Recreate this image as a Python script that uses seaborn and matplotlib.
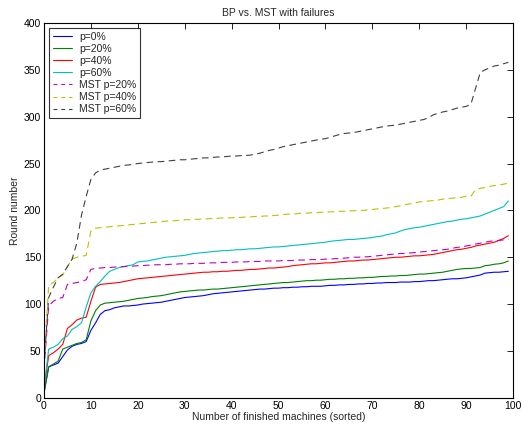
import numpy as np
import pandas as pd
import matplotlib
matplotlib.use("Agg")
import matplotlib.pyplot as plt
import seaborn as sns

machines = list(range(100))

bp_p0 = [5, 33, 35, 37, 44, 51, 55, 57, 58, 60,
         72, 80, 89, 93, 94, 96, 97, 98, 98, 98.5,
         99, 100, 100.5, 101, 101.5, 102, 103, 104, 105, 106,
         107, 107.5, 108, 108.5, 109, 110, 111, 111.5, 112, 112.5,
         113, 113.5, 114, 114.5, 115, 115.5, 116, 116, 116.5, 117,
         117, 117.5, 117.5, 118, 118, 118.5, 118.5, 119, 119, 119,
         119.5, 120, 120, 120.5, 120.5, 121, 121, 121.5, 121.5, 122,
         122, 122.5, 122.5, 123, 123, 123, 123.5, 123.5, 123.5, 124,
         124, 124.5, 125, 125, 125.5, 126, 126.5, 127, 127, 127.5,
         128, 129, 130, 131, 133, 133.5, 134, 134, 134.5, 135]

bp_p20 = [5, 33, 36, 39, 52, 54, 56, 58, 59, 62,
          82, 93, 99, 101, 101.5, 102, 102.5, 103, 104, 105,
          106, 106.5, 107, 108, 108.5, 109, 110, 111, 112, 113,
          113.5, 114, 114.5, 115, 115, 115.5, 116, 116, 116.5, 117,
          117.5, 118, 118.5, 119, 119.5, 120, 120.5, 121, 121.5, 122,
          122.5, 123, 123, 123.5, 124, 124.5, 125, 125, 125.5, 125.5,
          126, 126.5, 126.5, 127, 127, 127.5, 127.5, 128, 128, 128.5,
          128.5, 129, 129.5, 129.5, 130, 130, 130.5, 130.5, 131, 131.5,
          132, 132, 132.5, 133, 133.5, 134, 135, 136, 137, 137.5,
          138, 138, 138.5, 139, 141, 141.5, 142.5, 143, 144, 146]

bp_p40 = [10, 45, 48, 52, 57, 74, 78, 83, 85, 86,
          103, 118, 121, 121.5, 122, 122.5, 123, 124, 125, 126,
          127, 127.5, 128, 128.5, 129, 129.5, 130, 130.5, 131, 131.5,
          132, 132.5, 133, 133.5, 134, 134, 134.5, 134.5, 135, 135,
          135.5, 136, 136, 136.5, 137, 137, 137.5, 138, 138.5, 138.5,
          139, 139.5, 140, 141, 141.5, 142, 142.5, 143, 143, 143.5,
          144, 144, 144.5, 145, 145.5, 146, 146, 146.5, 147, 147,
          147.5, 148, 148.5, 149, 149.5, 150, 150, 150.5, 151, 151.5,
          151.5, 152, 152.5, 153, 154, 155, 156, 157, 158, 158.5,
          159.5, 160.5, 162, 163, 164, 165, 166, 168, 170, 173]

bp_p60 = [10, 52, 54, 57, 63, 66, 73, 76, 80, 97,
          112, 119, 124, 130, 135, 137, 139, 140, 141, 142,
          145, 145.5, 146, 147, 148, 149, 150, 150.5, 151, 151.5,
          152, 153, 154, 154.5, 155, 155.5, 156, 156.5, 157, 157,
          157.5, 158, 158, 158.5, 159, 159, 159.5, 160, 160.5, 161,
          161, 161.5, 162, 162.5, 163, 163.5, 164, 164.5, 165, 165.5,
          166, 167, 167.5, 168, 168.5, 169, 169, 169.5, 170, 170.5,
          171, 172, 172.5, 174, 175, 176, 178, 179.5, 180.5, 181.5,
          182, 183, 184, 185, 186, 187, 188, 188.5, 189.5, 190.5,
          191, 192, 193, 194, 196, 198, 200, 202, 204, 210]

mst_p20 = [30, 98, 103, 106, 107, 121, 122, 123, 124, 126,
           137, 138, 138.5, 139, 139, 139.5, 140, 140, 140.5, 140.5,
           141, 141, 141.5, 141.5, 142, 142, 142, 142.5, 142.5, 143,
           143, 143, 143.5, 143.5, 143.5, 144, 144, 144, 144.5, 144.5,
           144.5, 145, 145, 145, 145.5, 145.5, 145.5, 146, 146, 146,
           146, 146.5, 146.5, 146.5, 147, 147, 147, 147.5, 147.5, 147.5,
           148, 148, 148.5, 148.5, 149, 149.5, 150, 150, 150.5, 150.5,
           151, 151.5, 152, 152.5, 153, 153.5, 154, 154, 154.5, 155,
           155.5, 156, 156.5, 157, 157.5, 158, 158.5, 159.5, 160.5, 161,
           162, 163, 164, 165, 166, 167, 167.5, 168, 168.5, 169]

mst_p40 = [40, 120, 123, 128, 131, 140, 148, 150, 151, 152,
           178, 181, 181.5, 182, 182.5, 183, 183.5, 184, 184.5, 185,
           185.5, 186, 186.5, 187, 187.5, 188, 188.5, 189, 189, 189.5,
           190, 190, 190.5, 190.5, 191, 191, 191.5, 191.5, 192, 192,
           192, 192.5, 192.5, 193, 193, 193.5, 193.5, 194, 194, 194.5,
           195, 195.5, 196, 196, 196.5, 197, 197, 197.5, 197.5, 198,
           198, 198.5, 198.5, 199, 199, 199.5, 199.5, 200, 200, 200.5,
           201, 201.5, 202, 202.5, 203, 204, 205, 206, 207, 208,
           209, 209.5, 210, 210.5, 211, 212, 212.5, 213, 213.5, 214,
           215, 215, 222, 223.5, 224.5, 225.5, 226.5, 227, 228, 229]

mst_p60 = [35, 107, 118, 128, 132, 140, 148, 165, 195, 215,
           233, 240, 243, 244, 245, 246, 247, 248, 248.5, 249,
           250, 250.5, 251, 251.5, 252, 252, 252.5, 253, 253.5, 254,
           254, 254.5, 255, 255.5, 256, 256, 256.5, 257, 257, 257.5,
           258, 258, 258.5, 258.5, 259, 260, 261, 262.5, 264, 265,
           266.5, 268, 269, 270, 271, 272, 273, 274, 275, 276,
           276.5, 278, 279.5, 281, 282, 282.5, 283, 284, 285, 286,
           287, 288, 289, 290, 290.5, 291, 292, 293, 294, 295,
           296, 297, 299, 302, 303.5, 305, 306, 307.5, 309, 310,
           311, 313, 330, 347, 350, 352, 354, 355, 356.5, 358]

series_names = ["p=0%", "p=20%", "p=40%", "p=60%",
                "MST p=20%", "MST p=40%", "MST p=60%"]
series_values = [bp_p0, bp_p20, bp_p40, bp_p60, mst_p20, mst_p40, mst_p60]

df = pd.concat(
    [pd.DataFrame({"machine": machines, "round": vals, "series": name})
     for name, vals in zip(series_names, series_values)],
    ignore_index=True,
)

palette = {
    "p=0%": (0.0, 0.0, 1.0),
    "p=20%": (0.0, 0.5, 0.0),
    "p=40%": (1.0, 0.0, 0.0),
    "p=60%": (0.0, 0.75, 0.75),
    "MST p=20%": (0.75, 0.0, 0.75),
    "MST p=40%": (0.75, 0.75, 0.0),
    "MST p=60%": (0.25, 0.25, 0.25),
}
dashes = {name: ("" if not name.startswith("MST") else (6, 4))
          for name in series_names}

sns.set_style("white")
plt.rcParams["font.family"] = ["Liberation Sans", "DejaVu Sans"]

fig = plt.figure(figsize=(5.3, 4.25), dpi=100)
ax = fig.add_axes([0.083, 0.064, 0.885, 0.882])

sns.lineplot(data=df, x="machine", y="round", hue="series", style="series",
             hue_order=series_names, style_order=series_names,
             palette=palette, dashes=dashes, linewidth=0.8, ax=ax)

ax.set_xlim(0, 100)
ax.set_ylim(0, 400)
ax.set_xticks(range(0, 101, 10))
ax.set_yticks(range(0, 401, 50))
ax.tick_params(direction="in", top=True, right=True, length=4, width=0.6,
               labelsize=7.5, pad=2, colors="black")
for s in ax.spines.values():
    s.set_visible(True)
    s.set_color("black")
    s.set_linewidth(0.8)

ax.set_title("BP vs. MST with failures", fontsize=7.5, pad=5)
ax.set_xlabel("Number of finished machines (sorted)", fontsize=7.5, labelpad=1)
ax.set_ylabel("Round number", fontsize=7.5, labelpad=3)

handles, labels = ax.get_legend_handles_labels()
leg = ax.legend(handles, labels, loc="upper left", fontsize=7.5,
                frameon=True, fancybox=False, edgecolor="black",
                borderpad=0.35, labelspacing=0.2, handlelength=1.8,
                handletextpad=0.7, borderaxespad=0.5)
leg.get_frame().set_linewidth(0.8)
# shorter dash pattern so two dashes fit in each legend sample
for line, name in zip(leg.get_lines(), labels):
    if name.startswith("MST"):
        line.set_dashes((3.5, 3.5))

fig.savefig("out.png", dpi=100)
